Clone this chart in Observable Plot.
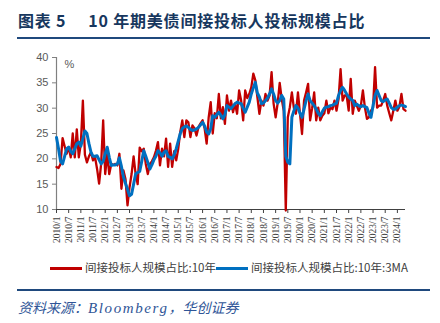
<!DOCTYPE html>
<html>
<head>
<meta charset="utf-8">
<script src="https://cdn.jsdelivr.net/npm/d3@7"></script>
<script src="https://cdn.jsdelivr.net/npm/@observablehq/plot@0.6"></script>
<style>
  html, body { margin: 0; padding: 0; background: #fff; }
  #wrap { position: relative; width: 440px; height: 323px; overflow: hidden; background: #fff; font-family: "Noto Sans CJK SC", sans-serif; }
  #title { position: absolute; left: 18px; top: 8px; font-size: 16px; font-weight: 700; color: #17375E; white-space: nowrap; letter-spacing: 0.8px; }
  #title .num { margin-left: 22px; }
  .rule { position: absolute; left: 17px; width: 413px; height: 2px; background: #1F497D; }
  #chart { position: absolute; left: 0; top: 40px; }
  .leg { position: absolute; top: 259px; font-size: 11.5px; color: #404040; white-space: nowrap; }
  .sw { position: absolute; height: 3px; top: 267px; }
  #source { position: absolute; left: 18px; top: 297px; font-size: 14px; font-style: italic; color: #2F5597; white-space: nowrap; font-family: "Liberation Serif", "Noto Sans CJK SC", serif; }
  #source .en { font-size: 15px; letter-spacing: 1.6px; }
  #chart g[aria-label="x-axis tick label"] text { font-family: "Liberation Serif", serif; font-size: 9.5px; fill: #404040; }
  #chart g[aria-label="y-axis tick label"] text { font-family: "Liberation Sans", sans-serif; font-size: 11px; fill: #595959; }
</style>
</head>
<body>
<div id="wrap">
  <div id="title">图表 5<span class="num">10 年期美债间接投标人投标规模占比</span></div>
  <div class="rule" style="top:37px"></div>
  <div id="chart"></div>
  <div class="sw" style="left:50px;width:32px;background:#C00000"></div>
  <div class="leg" style="left:85px">间接投标人规模占比:10年</div>
  <div class="sw" style="left:216px;width:32px;background:#0070C0"></div>
  <div class="leg" style="left:251px">间接投标人规模占比:10年:3MA</div>
  <div class="rule" style="top:289px"></div>
  <div id="source">资料来源：<span class="en">Bloomberg</span>，华创证券</div>
</div>
<script>
// Monthly series, 2010/1 onward
const indirectShare = [
  18.4,18.2,19.0,24.1,22.5,21.0,22.3,20.3,25.0,20.3,
  25.8,20.3,23.0,31.5,20.8,19.3,20.5,21.3,19.7,20.3,
  18.0,15.1,19.0,27.6,17.0,21.0,17.0,19.0,18.8,19.0,
  18.7,21.0,14.1,17.7,16.0,10.8,14.4,17.0,20.5,17.0,
  15.0,22.2,21.5,22.0,19.0,17.0,19.0,19.5,20.3,21.6,
  23.3,18.7,22.0,20.5,24.0,18.4,23.0,18.4,21.5,19.7,
  22.0,25.3,27.6,24.3,27.6,27.2,24.3,26.6,26.0,24.6,
  26.3,27.0,27.6,26.0,23.0,28.2,31.2,25.0,29.0,28.0,
  32.8,28.0,30.2,26.9,32.5,29.5,31.5,29.2,30.9,28.9,
  33.5,31.5,27.6,33.5,32.0,32.8,34.1,36.8,35.5,32.2,
  28.9,31.5,30.5,32.8,31.5,32.5,37.1,30.9,28.2,31.0,
  35.0,31.8,29.5,9.8,28.2,30.2,33.1,30.0,28.9,33.1,
  28.9,24.9,31.5,33.1,34.8,27.6,30.0,33.1,27.6,30.1,
  27.6,28.5,29.0,31.5,29.0,30.1,29.8,31.5,29.5,31.8,
  37.7,31.5,32.5,32.5,29.5,35.8,28.9,31.5,30.5,29.5,
  30.5,33.5,30.1,27.9,28.2,29.5,30.1,38.1,30.1,30.5,
  30.5,31.5,32.8,30.5,29.0,27.6,29.5,31.5,29.5,30.3,
  32.8,29.8,29.5
];
const indirectShare3MA = [
  24.2,22.0,19.5,19.0,20.5,22.0,22.3,21.5,21.0,22.0,
  23.0,23.3,22.5,24.0,25.5,25.0,23.0,21.3,20.5,20.5,
  20.6,19.8,19.0,19.5,21.0,22.3,20.3,18.7,18.8,18.8,
  19.0,20.2,18.5,16.4,15.2,14.0,12.7,13.0,15.0,17.0,
  17.3,17.5,19.5,21.6,20.5,19.3,18.0,18.8,19.8,20.5,
  21.6,21.2,20.5,21.3,21.6,20.5,20.3,20.0,20.8,22.0,
  23.5,25.0,26.0,26.3,26.5,26.2,25.8,25.6,25.7,25.9,
  26.2,26.7,27.2,26.5,25.3,24.9,26.0,28.5,28.2,28.7,
  29.2,28.6,27.9,28.7,30.5,30.2,29.9,30.4,30.9,31.2,
  31.0,30.9,30.0,29.2,30.2,31.2,32.8,34.0,35.1,33.0,
  32.2,30.9,31.0,31.5,32.0,32.8,33.8,32.8,31.5,31.0,
  31.5,32.5,31.8,20.5,19.3,19.0,28.2,29.5,30.5,30.0,
  29.0,28.2,29.8,31.5,32.8,31.5,31.0,30.5,29.8,29.0,
  28.5,29.3,30.0,30.2,30.3,30.5,30.6,30.8,31.0,32.5,
  33.5,34.1,33.5,32.8,32.2,31.8,31.5,30.5,30.8,30.5,
  30.3,30.5,30.3,30.1,29.0,28.2,30.5,32.5,33.5,32.5,
  31.5,31.3,31.6,31.8,31.0,30.1,29.8,29.8,30.2,30.5,
  30.6,30.5,30.3
];
const xTickLabels = [
  "2010/1","2010/7","2011/1","2011/7","2012/1","2012/7","2013/1","2013/7",
  "2014/1","2014/7","2015/1","2015/7","2016/1","2016/7","2017/1","2017/7",
  "2018/1","2018/7","2019/1","2019/7","2020/1","2020/7","2021/1","2021/7",
  "2022/1","2022/7","2023/1","2023/7","2024/1"
];
const yTicks = [10, 15, 20, 25, 30, 35, 40];
const yUnit = "%";

const redRows = indirectShare.map((v, i) => ({i, v}));
const blueRows = indirectShare3MA.map((v, i) => ({i, v}));
const tickPos = xTickLabels.map((_, k) => k * 6);

const chart = Plot.plot({
  width: 440,
  height: 210,
  marginTop: 17,
  marginBottom: 41,
  marginLeft: 56,
  marginRight: 35,
  style: {background: "transparent", color: "#404040"},
  x: {domain: [0, indirectShare.length - 1]},
  y: {domain: [10, 40]},
  marks: [
    Plot.axisY({ticks: yTicks, tickSize: 4, tickPadding: 4, label: null, stroke: "#808080"}),
    Plot.axisX({ticks: tickPos, tickFormat: (d) => xTickLabels[d / 6], tickRotate: -90, tickSize: 4, tickPadding: 3, label: null, stroke: "#404040"}),
    Plot.ruleX([0], {stroke: "#808080", strokeWidth: 1.2}),
    Plot.ruleY([10], {stroke: "#404040", strokeWidth: 1}),
    Plot.line(redRows, {x: "i", y: "v", stroke: "#C00000", strokeWidth: 2.3}),
    Plot.line(blueRows, {x: "i", y: "v", stroke: "#0070C0", strokeWidth: 3}),
    Plot.text([yUnit], {frameAnchor: "top-left", dx: 8, dy: 3, textAnchor: "start", fontSize: 11, fill: "#595959", fontFamily: "Liberation Sans, sans-serif"})
  ]
});
document.getElementById("chart").appendChild(chart);
</script>
</body>
</html>
